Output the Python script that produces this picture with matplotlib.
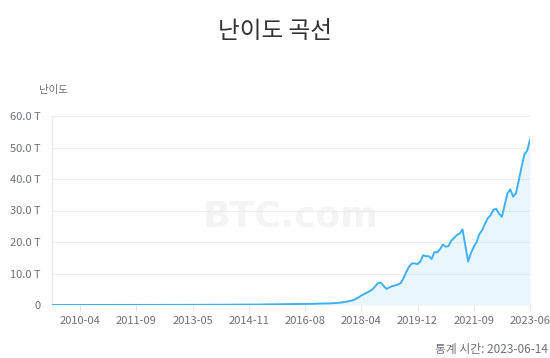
import matplotlib
matplotlib.use("Agg")
import matplotlib.pyplot as plt
import numpy as np

plt.rcParams['font.family'] = ['Noto Sans CJK KR', 'DejaVu Sans']

title = "난이도 곡선"
y_name = "난이도"
footer = "통계 시간: 2023-06-14"
watermark = "BTC.com"

tick_labels = ['2010-04', '2011-09', '2013-05', '2014-11', '2016-08',
               '2018-04', '2019-12', '2021-09', '2023-06']
tick_index = [10, 30, 50, 70, 90, 110, 130, 150, 170]

# difficulty in T, one value per category point
diff_early = [
    0.0, 0.0, 0.0, 0.0, 0.0, 0.0, 0.0, 0.0, 0.0, 0.0,
    0.0, 0.0, 0.0, 0.0, 0.0, 0.0, 0.0, 0.0, 0.0, 0.0,
    0.001, 0.001, 0.001, 0.001, 0.002, 0.002, 0.002, 0.002, 0.003, 0.003,
    0.003, 0.003, 0.004, 0.004, 0.005, 0.006, 0.007, 0.008, 0.009, 0.01,
    0.012, 0.014, 0.017, 0.02, 0.022, 0.025, 0.028, 0.031, 0.034, 0.037,
    0.04, 0.043, 0.046, 0.049, 0.05, 0.052, 0.055, 0.058, 0.06, 0.063,
    0.066, 0.07, 0.075, 0.08, 0.085, 0.09, 0.095, 0.1, 0.105, 0.11,
    0.12, 0.13, 0.14, 0.15, 0.16, 0.17, 0.18, 0.19, 0.2, 0.21,
    0.22, 0.23, 0.24, 0.25, 0.26, 0.27, 0.28, 0.29, 0.3, 0.31,
    0.32, 0.34, 0.36, 0.38, 0.4, 0.42, 0.44, 0.46, 0.5, 0.53,
]
diff_mid = [
    0.56, 0.62, 0.7, 0.8, 0.95, 1.1, 1.3, 1.5, 1.9, 2.4,
    3.0, 3.5, 3.9, 4.4, 5.0, 6.0, 7.0, 7.1, 6.0, 5.1,
    5.6, 6.0, 6.2, 6.5, 6.9,
]
diff_late = [
    8.5, 10.5, 12.2, 13.2, 13.2, 13.0, 13.8, 15.8, 15.5, 15.5,
    14.6, 16.8, 16.7, 17.7, 19.2, 18.5, 18.7, 20.4, 21.3, 22.2,
    22.7, 24.0, 19.0, 13.8, 16.5, 18.5, 20.0, 22.5, 23.8, 25.8,
    27.6, 28.5, 30.3, 30.5, 29.0, 28.0, 31.8, 35.5, 36.7, 34.4,
    35.5, 39.5, 43.8, 47.8, 49.0, 52.4,
]
difficulty = np.array(diff_early + diff_mid + diff_late)

y_ticks = [0, 10, 20, 30, 40, 50, 60]
y_tick_labels = ['0', '10.0 T', '20.0 T', '30.0 T', '40.0 T', '50.0 T', '60.0 T']

fig = plt.figure(figsize=(5.5, 3.58), dpi=100)
ax = fig.add_axes([52/550, 1-305/358, 478/550, (305-116)/358])

x = np.arange(len(difficulty))
line_color = '#3fb1f3'
ax.fill_between(x, difficulty, 0, color=line_color, alpha=0.11, linewidth=0, zorder=2)
ax.plot(x, difficulty, color=line_color, lw=1.4, zorder=3, solid_joinstyle='round')

ax.set_xlim(0, len(difficulty) - 1)
ax.set_ylim(0, 60)
ax.set_yticks(y_ticks)
ax.set_yticklabels(y_tick_labels)
ax.set_xticks(tick_index)
ax.set_xticklabels(tick_labels)

for v in y_ticks[1:]:
    ax.axhline(v, color='#eeeeee', lw=0.8, zorder=1)

for s in ['top', 'right', 'bottom']:
    ax.spines[s].set_visible(False)
ax.spines['left'].set_color('#e6ebf3')
ax.spines['left'].set_linewidth(0.8)
ax.tick_params(axis='y', length=0, pad=8, labelsize=8, labelcolor='#6e7079')
ax.tick_params(axis='x', length=4, width=0.8, color='#e0e6f1', pad=4,
               labelsize=8, labelcolor='#6e7079', direction='out')

ax.text(0.5, 0.47, watermark, transform=ax.transAxes, ha='center', va='center',
        fontsize=26, fontweight='bold', color='#f4f4f4', family='DejaVu Sans', zorder=0.5)

fig.text(275/550, 1-31/358, title, ha='center', va='center', fontsize=17, color='#333333')
fig.text(53/550, 1-90/358, y_name, ha='center', va='center', fontsize=7.5, color='#6e7079')
fig.text(548/550, 1-350/358, footer, ha='right', va='center', fontsize=8.5, color='#6e7079')

fig.savefig('out.png', dpi=100)
